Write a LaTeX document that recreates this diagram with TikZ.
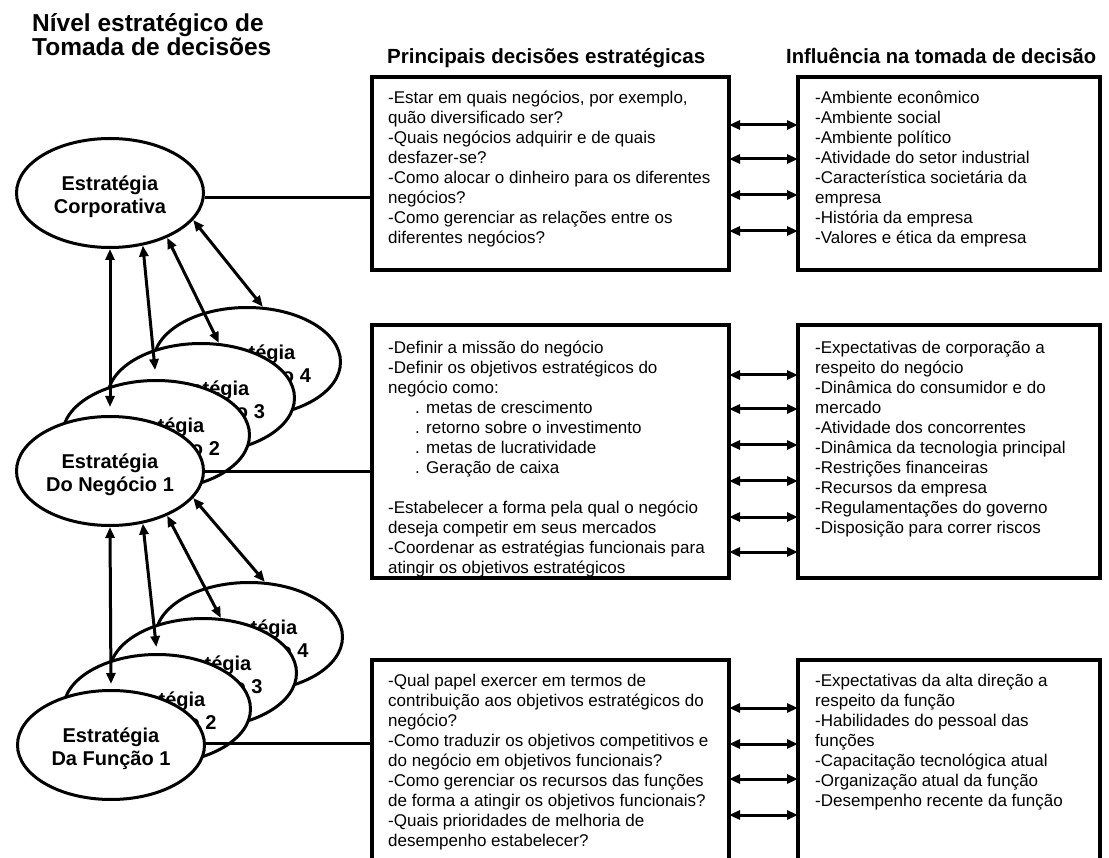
\documentclass[tikz,border=0pt]{standalone}
\usepackage{fontspec}
\usepackage{graphicx}
\setmainfont{Liberation Sans}
\usetikzlibrary{arrows.meta,shapes.geometric}

\begin{document}
\begin{tikzpicture}[x=1pt,y=-1pt,
  box/.style={draw, line width=3.4pt, fill=white, inner sep=0pt, outer sep=0pt, anchor=north west},
  body/.style={anchor=base west, inner sep=0pt},
  oval/.style={ellipse, draw, line width=3pt, fill=white, minimum width=187pt, minimum height=109pt,
               inner sep=0pt, font=\bfseries\fontsize{20}{23}\selectfont},
  link/.style={line width=3pt},
  both/.style={line width=3pt, {Triangle[length=11pt,width=9pt]}-{Triangle[length=11pt,width=9pt]}},
  head/.style={anchor=base west, inner sep=0pt, font=\bfseries\fontsize{20.5}{24}\selectfont}
]
\newcommand{\txt}[2]{\parbox[t]{#1}{\fontsize{17}{20}\selectfont\raggedright #2}}
\newcommand{\ind}{\hspace*{27pt}}
% two-line label, set a little below the middle of its ellipse
\newcommand{\olab}[2]{\raisebox{-4pt}[\height][\depth]{\begin{tabular}{@{}c@{}}#1\\#2\end{tabular}}}

\useasboundingbox (0,0) rectangle (1109,858);
\begin{scope}
\clip (0,0) rectangle (1109,858);

% title and column headings
\node[anchor=base west, inner sep=0pt] (title) at (32,32)
  {\parbox[t]{320pt}{\bfseries\fontsize{24.5}{22}\selectfont Nível estratégico de\\Tomada de decisões}};
\node[head] (h1) at (387,64) {\resizebox{318pt}{\height}{Principais decisões estratégicas}};
\node[head] (h2) at (786,64) {\resizebox{310pt}{\height}{Influência na tomada de decisão}};

% boxes
\node[box, minimum width=357, minimum height=193] (d1) at (372,77) {};
\node[box, minimum width=302, minimum height=193] (i1) at (798,77) {};
\node[box, minimum width=357, minimum height=253] (d2) at (372,325) {};
\node[box, minimum width=302, minimum height=253] (i2) at (798,325) {};
\node[box, minimum width=357, minimum height=240] (d3) at (372,660) {};
\node[box, minimum width=302, minimum height=240] (i3) at (798,660) {};

% box contents
\node[body] (d1t) at (388,104) {\txt{400pt}{%
-Estar em quais negócios, por exemplo,\\
quão diversificado ser?\\
-Quais negócios adquirir e de quais\\
desfazer-se?\\
-Como alocar o dinheiro para os diferentes\\
negócios?\\
-Como gerenciar as relações entre os\\
diferentes negócios?}};
\node[body] (i1t) at (815,104) {\txt{300pt}{%
-Ambiente econômico\\
-Ambiente social\\
-Ambiente político\\
-Atividade do setor industrial\\
-Característica societária da\\
empresa\\
-História da empresa\\
-Valores e ética da empresa}};
\node[body] (d2t) at (388,354) {\txt{400pt}{%
-Definir a missão do negócio\\
-Definir os objetivos estratégicos do\\
negócio como:\\
\ind. metas de crescimento\\
\ind. retorno sobre o investimento\\
\ind. metas de lucratividade\\
\ind. Geração de caixa\\[20pt]
-Estabelecer a forma pela qual o negócio\\
deseja competir em seus mercados\\
-Coordenar as estratégias funcionais para\\
atingir os objetivos estratégicos}};
\node[body] (i2t) at (815,354) {\txt{300pt}{%
-Expectativas de corporação a\\
respeito do negócio\\
-Dinâmica do consumidor e do\\
mercado\\
-Atividade dos concorrentes\\
-Dinâmica da tecnologia principal\\
-Restrições financeiras\\
-Recursos da empresa\\
-Regulamentações do governo\\
-Disposição para correr riscos}};
\node[body] (d3t) at (388,686) {\txt{400pt}{%
-Qual papel exercer em termos de\\
contribuição aos objetivos estratégicos do\\
negócio?\\
-Como traduzir os objetivos competitivos e\\
do negócio em objetivos funcionais?\\
-Como gerenciar os recursos das funções\\
de forma a atingir os objetivos funcionais?\\
-Quais prioridades de melhoria de\\
desempenho estabelecer?}};
\node[body] (i3t) at (815,686) {\txt{300pt}{%
-Expectativas da alta direção a\\
respeito da função\\
-Habilidades do pessoal das\\
funções\\
-Capacitação tecnológica atual\\
-Organização atual da função\\
-Desempenho recente da função}};

% double arrows between decision and influence boxes
\foreach \d in {48,82,118,154}
  \draw[both] ([yshift=-\d]d1.north east) -- ([yshift=-\d]i1.north west);
\foreach \d in {50,84,120,156,192,227}
  \draw[both] ([yshift=-\d]d2.north east) -- ([yshift=-\d]i2.north west);
\foreach \d in {48,84,119,155}
  \draw[both] ([yshift=-\d]d3.north east) -- ([yshift=-\d]i3.north west);

% strategy ellipses (back to front)
\node[oval] (corp) at (110,193) {\olab{Estratégia}{Corporativa}};

\node[oval] (neg4) at (247,362) {\olab{Estratégia}{Do Negócio 4}};
\node[oval] (neg3) at (201,398) {\olab{Estratégia}{Do Negócio 3}};
\node[oval] (neg2) at (156,435) {\olab{Estratégia}{Do Negócio 2}};
\node[oval] (neg1) at (110,471) {\olab{Estratégia}{Do Negócio 1}};

\node[oval] (fun4) at (249,637) {\olab{Estratégia}{Da Função 4}};
\node[oval] (fun3) at (203,673) {\olab{Estratégia}{Da Função 3}};
\node[oval] (fun2) at (157,709) {\olab{Estratégia}{Da Função 2}};
\node[oval] (fun1) at (111,745) {\olab{Estratégia}{Da Função 1}};

% ellipses to decision boxes
\coordinate (c1) at ([yshift=-121]d1.north west);
\coordinate (c2) at ([yshift=-147]d2.north west);
\coordinate (c3) at ([yshift=-83]d3.north west);
\draw[link] (c1) -- (c1 -| corp.east);
\draw[link] (c2) -- (c2 -| neg1.east);
\draw[link] (c3) -- (c3 -| fun1.east);

% links between levels
\draw[both, shorten >=8pt] (corp.south) -- (neg1.north);
\draw[both, shorten >=9pt] (corp.-58) -- (neg2.north);
\draw[both] (corp.-38) -- (neg3.72);
\draw[both] (corp.-18) -- (neg4.74);

\draw[both, shorten >=5pt] (neg1.south) -- (fun1.north);
\draw[both, shorten >=6pt] (neg1.-58) -- (fun2.north);
\draw[both] (neg1.-38) -- (fun3.72);
\draw[both] (neg1.-18) -- (fun4.74);
\end{scope}
\end{tikzpicture}
\end{document}
